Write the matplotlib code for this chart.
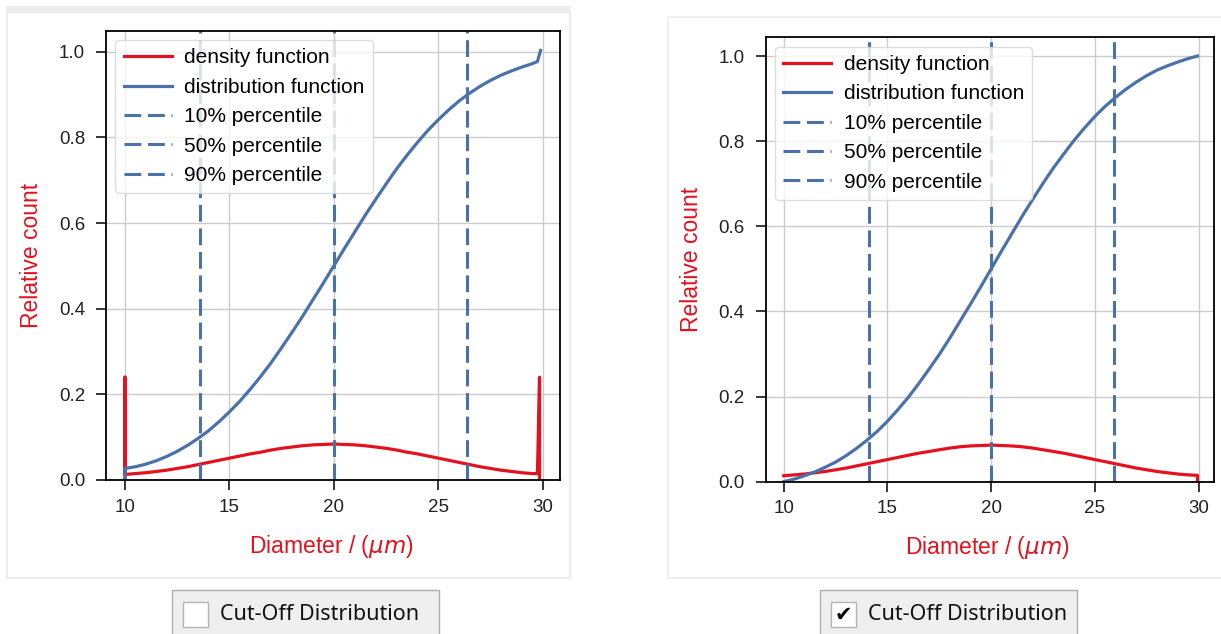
import matplotlib
matplotlib.use('Agg')
import matplotlib.pyplot as plt
from matplotlib.patches import Rectangle

plt.rcParams['font.family'] = ['Liberation Sans', 'DejaVu Sans']

W, H = 1221, 634
RED = '#e4111f'
BLUE = '#4a71aa'

'''Data read off the screenshot'''

diam = [10.0, 10.5, 11.0, 11.5, 12.0, 12.5, 13.0, 13.5, 14.0, 14.5,
        15.0, 15.5, 16.0, 16.5, 17.0, 17.5, 18.0, 18.5, 19.0, 19.5,
        20.0, 20.5, 21.0, 21.5, 22.0, 22.5, 23.0, 23.5, 24.0, 24.5,
        25.0, 25.5, 26.0, 26.5, 27.0, 27.5, 28.0, 28.5, 29.0, 29.5]

# left panel: no cut-off, tails lumped into the end bins
raw_dens_x = [10.0, 10.0] + diam + [29.75, 29.85, 29.85]
raw_dens = [0.0, 0.24,
            0.013, 0.015, 0.017, 0.020, 0.023, 0.027, 0.031, 0.036, 0.041, 0.046,
            0.051, 0.056, 0.061, 0.065, 0.070, 0.074, 0.077, 0.080, 0.082, 0.083,
            0.084, 0.083, 0.082, 0.080, 0.077, 0.074, 0.070, 0.065, 0.061, 0.056,
            0.051, 0.046, 0.041, 0.036, 0.031, 0.027, 0.023, 0.020, 0.017, 0.015,
            0.015, 0.24, 0.0]
raw_cdf_x = [10.0] + diam + [29.75, 29.9]
raw_cdf = [0.003,
           0.027, 0.031, 0.037, 0.045, 0.055, 0.067, 0.081, 0.097, 0.115, 0.136,
           0.159, 0.184, 0.212, 0.242, 0.274, 0.309, 0.345, 0.382, 0.421, 0.460,
           0.500, 0.540, 0.579, 0.618, 0.655, 0.691, 0.726, 0.758, 0.788, 0.816,
           0.841, 0.864, 0.885, 0.903, 0.919, 0.933, 0.945, 0.955, 0.964, 0.972,
           0.977, 1.003]
raw_pct = [13.6, 20.0, 26.4]

# right panel: cut-off distribution
cut_x = diam + [29.95]
cut_dens_x = cut_x + [29.95]
cut_dens = [0.014, 0.016, 0.018, 0.021, 0.024, 0.028, 0.032, 0.037, 0.042, 0.047,
            0.052, 0.057, 0.062, 0.067, 0.071, 0.075, 0.079, 0.082, 0.084, 0.085,
            0.086, 0.085, 0.084, 0.082, 0.079, 0.075, 0.071, 0.067, 0.062, 0.057,
            0.052, 0.047, 0.042, 0.037, 0.032, 0.028, 0.024, 0.021, 0.018, 0.016,
            0.015, 0.0]
cut_cdf = [0.0, 0.006, 0.014, 0.023, 0.034, 0.046, 0.061, 0.078, 0.097, 0.118,
           0.142, 0.169, 0.198, 0.230, 0.264, 0.299, 0.337, 0.377, 0.417, 0.458,
           0.500, 0.542, 0.583, 0.624, 0.663, 0.701, 0.737, 0.770, 0.802, 0.831,
           0.858, 0.882, 0.903, 0.922, 0.939, 0.954, 0.967, 0.977, 0.986, 0.994,
           1.0]
cut_pct = [14.1, 20.0, 25.9]

pct_labels = ['10% percentile', '50% percentile', '90% percentile']
x_ticks = [10, 15, 20, 25, 30]
y_ticks = [0.0, 0.2, 0.4, 0.6, 0.8, 1.0]

DASH = (0, (5.5, 2.2))


def px_box(x0, y0, x1, y1):
    """Pixel box (top-left origin) to figure fraction rect."""
    return [x0 / W, 1 - y1 / H, (x1 - x0) / W, (y1 - y0) / H]


def draw_panel(ax, dx, dy, cx, cy, pct, xlim, ylim):
    ax.plot(dx, dy, color=RED, lw=2.3, label='density function')
    ax.plot(cx, cy, color=BLUE, lw=2.3, label='distribution function')
    for p, lab in zip(pct, pct_labels):
        ax.axvline(p, color=BLUE, ls=DASH, lw=2.2, label=lab)
    ax.set_xlim(*xlim)
    ax.set_ylim(*ylim)
    ax.set_xticks(x_ticks)
    ax.set_yticks(y_ticks)
    ax.set_yticklabels(['%.1f' % t for t in y_ticks])
    ax.grid(True, color='#cccccc', lw=1.0)
    ax.set_axisbelow(True)
    for s in ax.spines.values():
        s.set_color('black')
        s.set_linewidth(1.3)
    ax.tick_params(direction='out', length=7, width=1.1, colors='black',
                   labelcolor='#222222', labelsize=13.5)
    ax.tick_params(axis='x', pad=6.5)
    ax.tick_params(axis='y', pad=8)
    ax.set_xlabel(r'Diameter / ($\mu m$)', color=RED, fontsize=16.5, va='center')
    ax.set_ylabel('Relative count', color=RED, fontsize=16.5, va='center')
    ax.xaxis.set_label_coords(0.495, -0.149)
    ax.yaxis.set_label_coords(-0.165, 0.5)
    ax.legend(loc='upper left', fontsize=15, handlelength=2.3, handletextpad=0.6,
              labelspacing=0.5, borderpad=0.4, borderaxespad=0.45,
              framealpha=0.8, edgecolor='#d5d5d5')


def draw_checkbox(bg, x0, x1, checked):
    bg.add_patch(Rectangle((x0, 590), x1 - x0, 50, facecolor='#efefef',
                           edgecolor='#adadad', lw=1.0))
    bg.add_patch(Rectangle((x0 + 11, 602), 25, 25, facecolor='white',
                           edgecolor='#b4b4b4', lw=1.0))
    if checked:
        bg.text(x0 + 23.5, 615, '\u2714', family='DejaVu Sans', fontsize=15,
                ha='center', va='center', color='black')
    bg.text(x0 + 48, 614, 'Cut-Off Distribution', family='Noto Sans',
            fontsize=15.5, ha='left', va='center', color='#111111')


fig = plt.figure(figsize=(W / 100, H / 100), dpi=100)

# window background, panels and check boxes drawn in pixel coordinates
bg = fig.add_axes([0, 0, 1, 1], zorder=-1)
bg.set_xlim(0, W)
bg.set_ylim(H, 0)
bg.axis('off')
bg.add_patch(Rectangle((7, 7), 563, 571, facecolor='white', edgecolor='#ececec', lw=1.5))
bg.add_patch(Rectangle((7, 7), 563, 6, facecolor='#ededed', edgecolor='none'))
bg.add_patch(Rectangle((668, 17), 560, 561, facecolor='white', edgecolor='#f0f0f0', lw=1.5))
draw_checkbox(bg, 172, 439, False)
draw_checkbox(bg, 820, 1077, True)

ax1 = fig.add_axes(px_box(106, 30.7, 560, 480))
draw_panel(ax1, raw_dens_x, raw_dens, raw_cdf_x, raw_cdf, raw_pct,
           (9.09, 30.83), (0.0, 1.049))

ax2 = fig.add_axes(px_box(765.5, 37.3, 1213.5, 481.7))
draw_panel(ax2, cut_dens_x, cut_dens, cut_x, cut_cdf, cut_pct,
           (9.12, 30.72), (0.0, 1.044))

plt.savefig('out.png', dpi=100)
plt.close()
